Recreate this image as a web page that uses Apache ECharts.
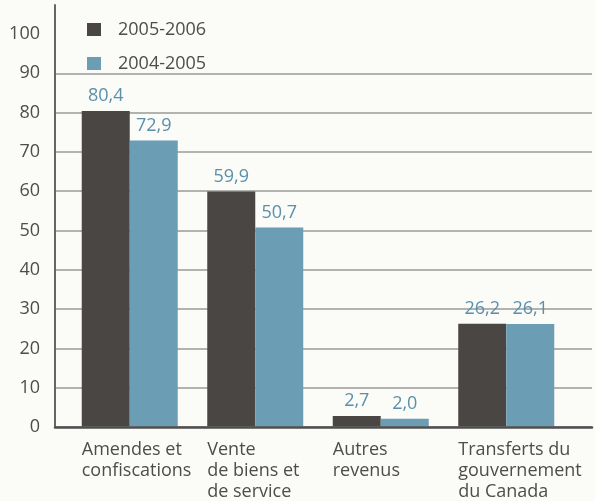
<!DOCTYPE html>
<html>
<head>
<meta charset="utf-8">
<script src="https://cdn.jsdelivr.net/npm/echarts@6/dist/echarts.min.js"></script>
<style>
  html, body { margin: 0; padding: 0; background: #fbfbf8; }
  #chart { width: 595px; height: 501px; }
</style>
</head>
<body>
<div id="chart"></div>
<script>
// données du graphique
const categories = [
  'Amendes et\nconfiscations',
  'Vente\nde biens et\nde service',
  'Autres\nrevenus',
  'Transferts du\ngouvernement\ndu Canada',
];
const seriesNames = ['2005-2006', '2004-2005'];
const values2005_2006 = [80.4, 59.9, 2.7, 26.2];
const values2004_2005 = [72.9, 50.7, 2.0, 26.1];
const yTicks = [0, 10, 20, 30, 40, 50, 60, 70, 80, 90, 100];

const FONT = '"Open Sans", sans-serif';
const TEXT = '#4d4d4d';
const DARK = '#4a4644';
const BLUE = '#6b9db5';
const LABEL_BLUE = '#5a90ab';

const yMax = 107.4; // l'axe monte un peu au-dessus de 100
const gridMax = yTicks[yTicks.length - 2]; // lignes de 0 à 90

const fmt = (v) => v.toFixed(1).replace('.', ',');

const chart = echarts.init(document.getElementById('chart'));

const option = {
  backgroundColor: '#fbfbf8',
  animation: false,
  textStyle: { fontFamily: FONT },
  legend: {
    orient: 'vertical',
    left: 82,
    top: 14,
    itemWidth: 14,
    itemHeight: 13,
    itemGap: 13,
    icon: 'rect',
    data: seriesNames,
    textStyle: {
      fontFamily: FONT,
      fontSize: 18,
      color: TEXT,
      lineHeight: 21,
      padding: [0, 0, 0, 12],
    },
  },
  grid: [
    // axes et étiquettes
    { left: 55, right: 3, top: 5, bottom: 74 },
    // lignes horizontales
    { left: 55, right: 3, top: 427 - gridMax * 3.93, bottom: 74 },
    // barres
    { left: 67, width: 502, top: 5, bottom: 74 },
  ],
  xAxis: [
    {
      gridIndex: 0,
      type: 'value',
      min: 0,
      max: 1,
      z: 5,
      axisLine: { show: true, lineStyle: { color: '#4f4f4f', width: 2.5 } },
      axisTick: { show: false },
      axisLabel: { show: false },
      splitLine: { show: false },
    },
    {
      gridIndex: 1,
      type: 'value',
      min: 0,
      max: 1,
      show: false,
    },
    {
      gridIndex: 2,
      type: 'category',
      data: categories,
      axisLine: { show: false },
      axisTick: { show: false },
      axisLabel: {
        margin: 13,
        interval: 0,
        fontFamily: FONT,
        fontSize: 18,
        color: TEXT,
        formatter: (value) =>
          value
            .split('\n')
            .map((l) => '{a|' + l + '}')
            .join('\n'),
        rich: {
          a: {
            width: 96,
            align: 'left',
            fontFamily: FONT,
            fontSize: 18,
            lineHeight: 21,
            color: TEXT,
          },
        },
      },
    },
  ],
  yAxis: [
    {
      gridIndex: 0,
      type: 'value',
      min: 0,
      max: yMax,
      interval: 10,
      axisLine: { show: true, lineStyle: { color: '#666', width: 2 } },
      axisTick: { show: false },
      splitLine: { show: false },
      axisLabel: {
        margin: 15,
        fontFamily: FONT,
        fontSize: 18,
        color: TEXT,
        formatter: (v) => (yTicks.indexOf(v) >= 0 ? String(v) : ''),
      },
    },
    {
      gridIndex: 1,
      type: 'value',
      min: 0,
      max: gridMax,
      interval: 10,
      axisLine: { show: false },
      axisTick: { show: false },
      axisLabel: { show: false },
      splitLine: { show: true, lineStyle: { color: '#9a9a9a', width: 1.5 } },
    },
    {
      gridIndex: 2,
      type: 'value',
      min: 0,
      max: yMax,
      show: false,
    },
  ],
  series: [
    {
      name: seriesNames[0],
      type: 'bar',
      xAxisIndex: 2,
      yAxisIndex: 2,
      barWidth: 48,
      barGap: '0%',
      itemStyle: { color: DARK },
      label: {
        show: true,
        position: 'top',
        distance: 6,
        fontFamily: FONT,
        fontSize: 18,
        color: LABEL_BLUE,
        formatter: (p) => fmt(p.value),
      },
      data: values2005_2006,
    },
    {
      name: seriesNames[1],
      type: 'bar',
      xAxisIndex: 2,
      yAxisIndex: 2,
      barWidth: 48,
      barGap: '0%',
      itemStyle: { color: BLUE },
      label: {
        show: true,
        position: 'top',
        distance: 6,
        fontFamily: FONT,
        fontSize: 18,
        color: LABEL_BLUE,
        formatter: (p) => fmt(p.value),
      },
      data: values2004_2005,
    },
  ],
};

chart.setOption(option);
</script>
</body>
</html>
